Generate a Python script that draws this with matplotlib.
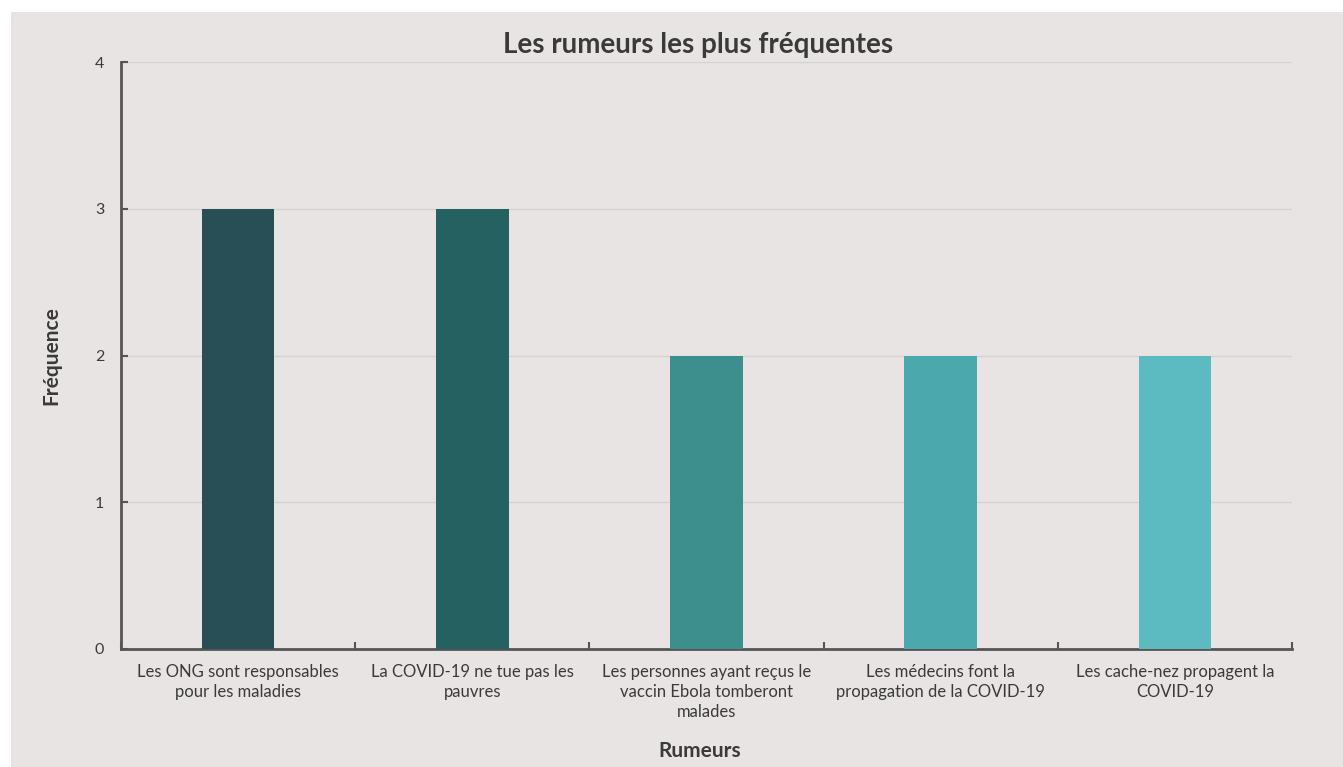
import matplotlib.pyplot as plt
from matplotlib.patches import Rectangle
import numpy as np

# data
rumeurs = [
    'Les ONG sont responsables\npour les maladies',
    'La COVID-19 ne tue pas les\npauvres',
    'Les personnes ayant reçus le\nvaccin Ebola tomberont\nmalades',
    'Les médecins font la\npropagation de la COVID-19',
    'Les cache-nez propagent la\nCOVID-19',
]
frequence = [3, 3, 2, 2, 2]
bar_colors = ['#284f56', '#256161', '#3c8f8d', '#4ba9ae', '#5bbbc1']

BG = '#e8e4e3'
TXT = '#3a3a3a'
plt.rcParams['font.family'] = ['Lato', 'DejaVu Sans']

fig = plt.figure(figsize=(13.43, 7.67), dpi=100)
fig.patch.set_facecolor('white')
# grey panel with thin white margin top/left
fig.patches.append(Rectangle((11 / 1343, 0), 1 - 11 / 1343, 1 - 12 / 767,
                             transform=fig.transFigure, facecolor=BG,
                             edgecolor='none', zorder=-10))

ax = fig.add_axes([121 / 1343, 1 - 649 / 767, (1292 - 121) / 1343, (649 - 62) / 767])
ax.set_facecolor(BG)

x = np.arange(len(rumeurs))
ax.bar(x, frequence, width=0.31, color=bar_colors, zorder=3)

ax.set_xlim(-0.5, len(rumeurs) - 0.5)
ax.set_ylim(0, 4)
ax.set_yticks([0, 1, 2, 3, 4])
ax.yaxis.grid(True, color='#d6d2d1', linewidth=1, zorder=0)
ax.tick_params(axis='y', direction='in', length=5, width=1.5, color='#555555',
               labelsize=11.5, labelcolor=TXT, pad=12)

# category labels centred, ticks at boundaries
ax.set_xticks(x)
ax.set_xticklabels(rumeurs, fontsize=12, color=TXT, linespacing=1.3)
ax.tick_params(axis='x', which='major', length=0, pad=11)
ax.set_xticks(np.arange(len(rumeurs) + 1) - 0.5, minor=True)
ax.tick_params(axis='x', which='minor', direction='in', length=5, width=1.5, color='#555555')

for side in ['top', 'right']:
    ax.spines[side].set_visible(False)
for side in ['left', 'bottom']:
    ax.spines[side].set_color('#555555')
    ax.spines[side].set_linewidth(2)

ax.set_xlabel('Rumeurs', fontsize=15, fontweight='bold', color=TXT)
ax.xaxis.set_label_coords((700 - 121) / 1171, -(741 - 649) / 587)
ax.set_ylabel('Fréquence', fontsize=15, fontweight='bold', color=TXT, labelpad=24)
fig.text(698 / 1343, 1 - 45 / 767, 'Les rumeurs les plus fréquentes', ha='center', va='center',
         fontsize=20, fontweight='bold', color=TXT)

fig.savefig('out.png', dpi=100, facecolor=fig.get_facecolor())
